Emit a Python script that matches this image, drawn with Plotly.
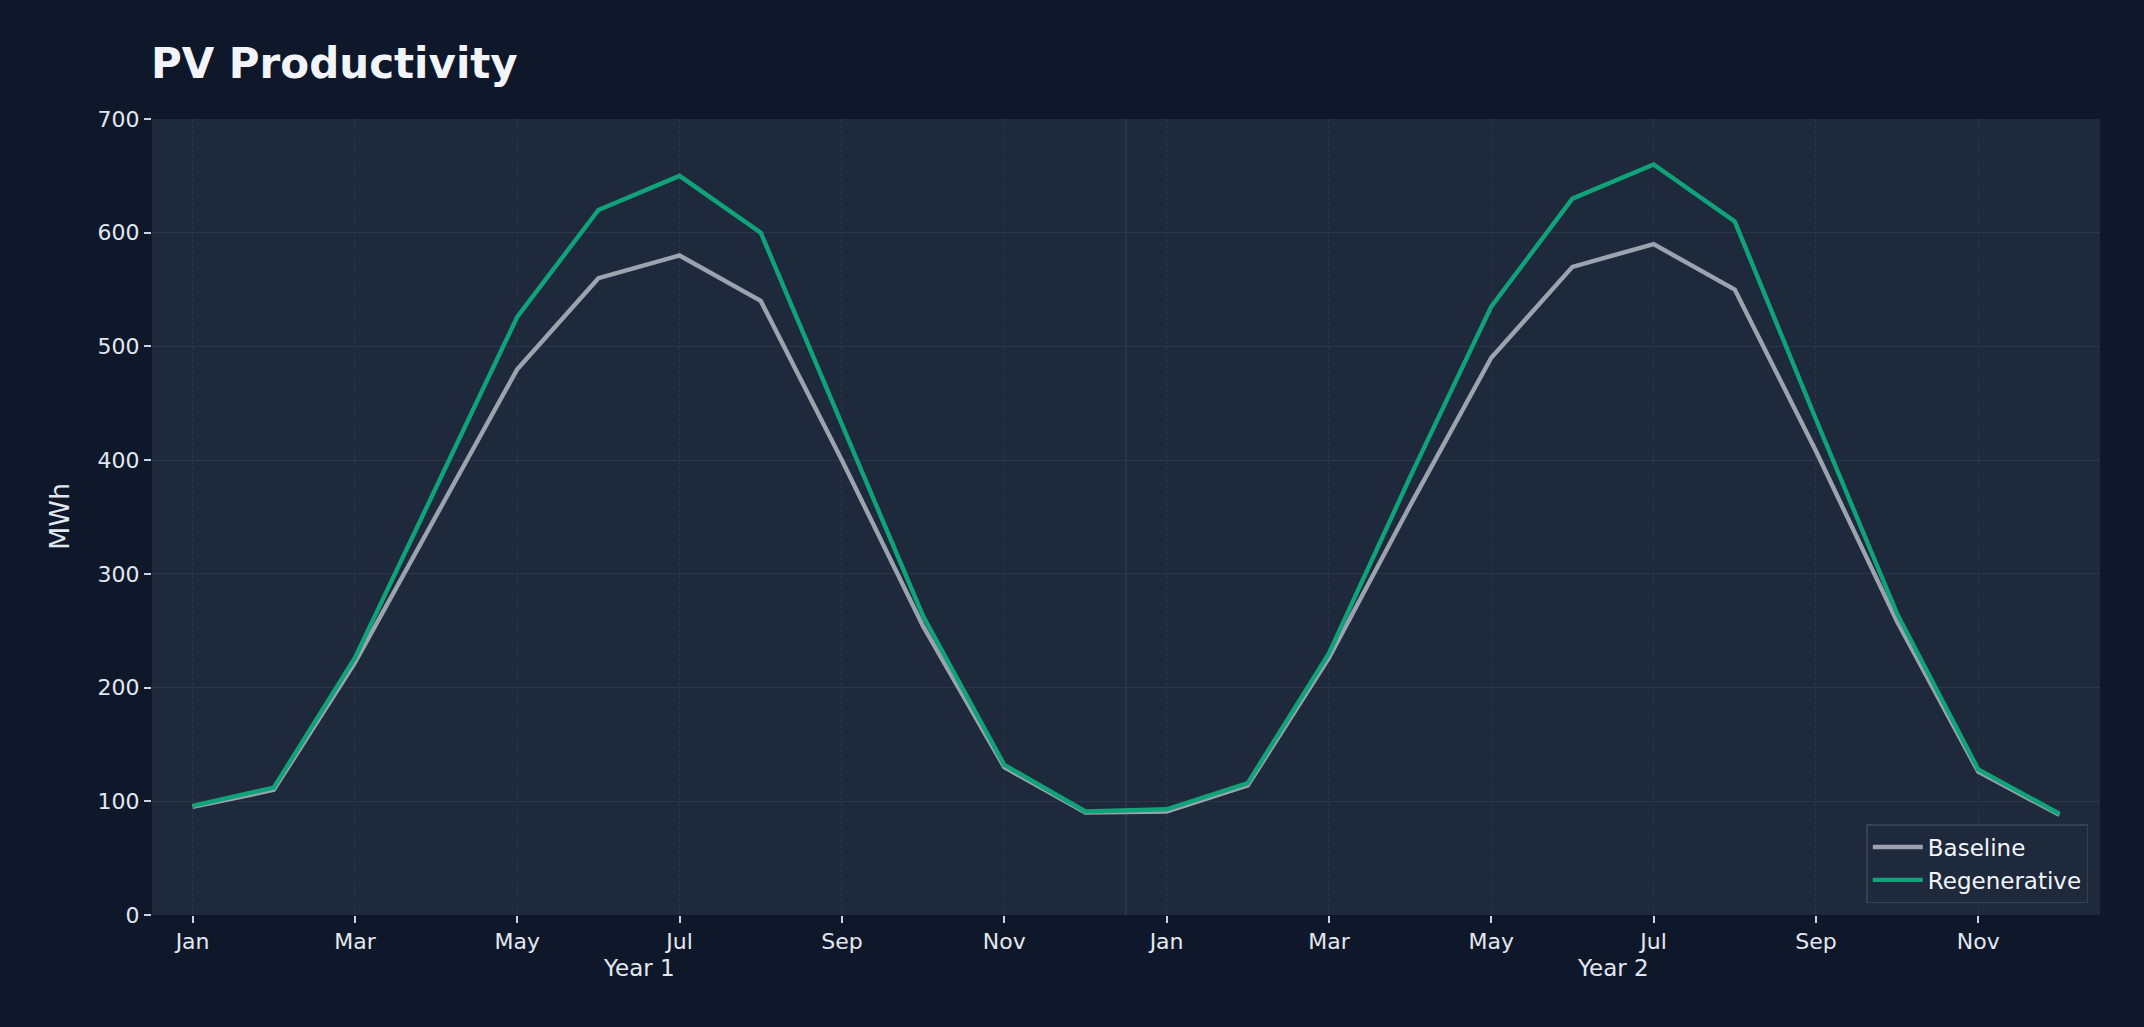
import plotly.graph_objects as go

# month positions, two years side by side
months = ["Jan", "Feb", "Mar", "Apr", "May", "Jun",
          "Jul", "Aug", "Sep", "Oct", "Nov", "Dec"]
x_idx = list(range(24))
tick_pos = [0, 2, 4, 6, 8, 10, 12, 14, 16, 18, 20, 22]
tick_text = ["Jan", "Mar", "May", "Jul", "Sep", "Nov"] * 2
year_labels = ["Year 1", "Year 2"]
year_centers = [5.5, 17.5]

# MWh per month
baseline = [95, 110, 222, 352, 480, 560, 580, 540, 400, 254, 130, 90,
            91, 114, 226, 360, 490, 570, 590, 550, 408, 258, 126, 88]
regenerative = [96, 112, 226, 376, 526, 620, 650, 600, 431, 263, 132, 91,
                93, 116, 230, 385, 535, 630, 660, 610, 436, 265, 128, 89]

W, H = 2144, 1027
ML, MR, MT, MB = 152, 44, 119, 112
paper_bg = "#0f172a"
plot_bg = "#1e293b"
txt = "#e2e8f0"
font = "DejaVu Sans"

fig = go.Figure()
fig.add_trace(go.Scatter(x=x_idx, y=baseline, mode="lines", name="Baseline",
                         line=dict(color="#9ca3af", width=4.4)))
fig.add_trace(go.Scatter(x=x_idx, y=regenerative, mode="lines", name="Regenerative",
                         line=dict(color="#10a37a", width=4.4)))

# year separator
fig.add_vline(x=11.5, line=dict(color="#334155", width=1.2), layer="below")

plot_h = H - MT - MB
plot_w = W - ML - MR
for lbl, xc in zip(year_labels, year_centers):
    fig.add_annotation(x=xc, xref="x", y=-(968 - (H - MB)) / plot_h, yref="paper",
                       text=lbl, showarrow=False, yanchor="middle",
                       font=dict(family=font, size=23, color=txt))

fig.add_annotation(x=-(ML - 59) / plot_w, xref="paper", y=0.5, yref="paper",
                   text="MWh", textangle=-90, showarrow=False,
                   xanchor="center", yanchor="middle",
                   font=dict(family=font, size=27, color=txt))

fig.update_layout(
    width=W, height=H,
    margin=dict(l=ML, r=MR, t=MT, b=MB),
    paper_bgcolor=paper_bg, plot_bgcolor=plot_bg,
    font=dict(family=font, color=txt, size=22),
    title=dict(text="<b>PV Productivity</b>", x=ML / W - 0.0005, xanchor="left",
               y=1 - 63 / H, yanchor="middle", yref="container",
               font=dict(family=font, size=42, color="#f1f5f9")),
    showlegend=True,
    legend=dict(x=0.994, y=0.015, xanchor="right", yanchor="bottom",
                bgcolor=plot_bg, bordercolor="#334155", borderwidth=1.5,
                font=dict(family=font, size=23, color="#f1f5f9"),
                tracegroupgap=4, itemwidth=50),
    xaxis=dict(range=[-0.5, 23.5], tickmode="array", tickvals=tick_pos,
               ticktext=tick_text, ticks="outside", ticklen=7, tickwidth=2,
               tickcolor="#cbd5e1", showgrid=True, gridcolor="rgba(148,163,184,0.12)",
               griddash="dot", gridwidth=1, zeroline=False, showline=False,
               tickfont=dict(family=font, size=22, color=txt)),
    yaxis=dict(range=[0, 700], tickvals=[0, 100, 200, 300, 400, 500, 600, 700],
               ticks="outside", ticklen=7, tickwidth=2, tickcolor="#cbd5e1",
               showgrid=True, gridcolor="#2b3649", gridwidth=1.2,
               zeroline=False, showline=False,
               tickfont=dict(family=font, size=22, color=txt)),
)

fig.write_html("out.html", config={"displayModeBar": False},
               post_script="document.body.style.margin='0';"
                           "document.body.style.background='#0f172a';")
